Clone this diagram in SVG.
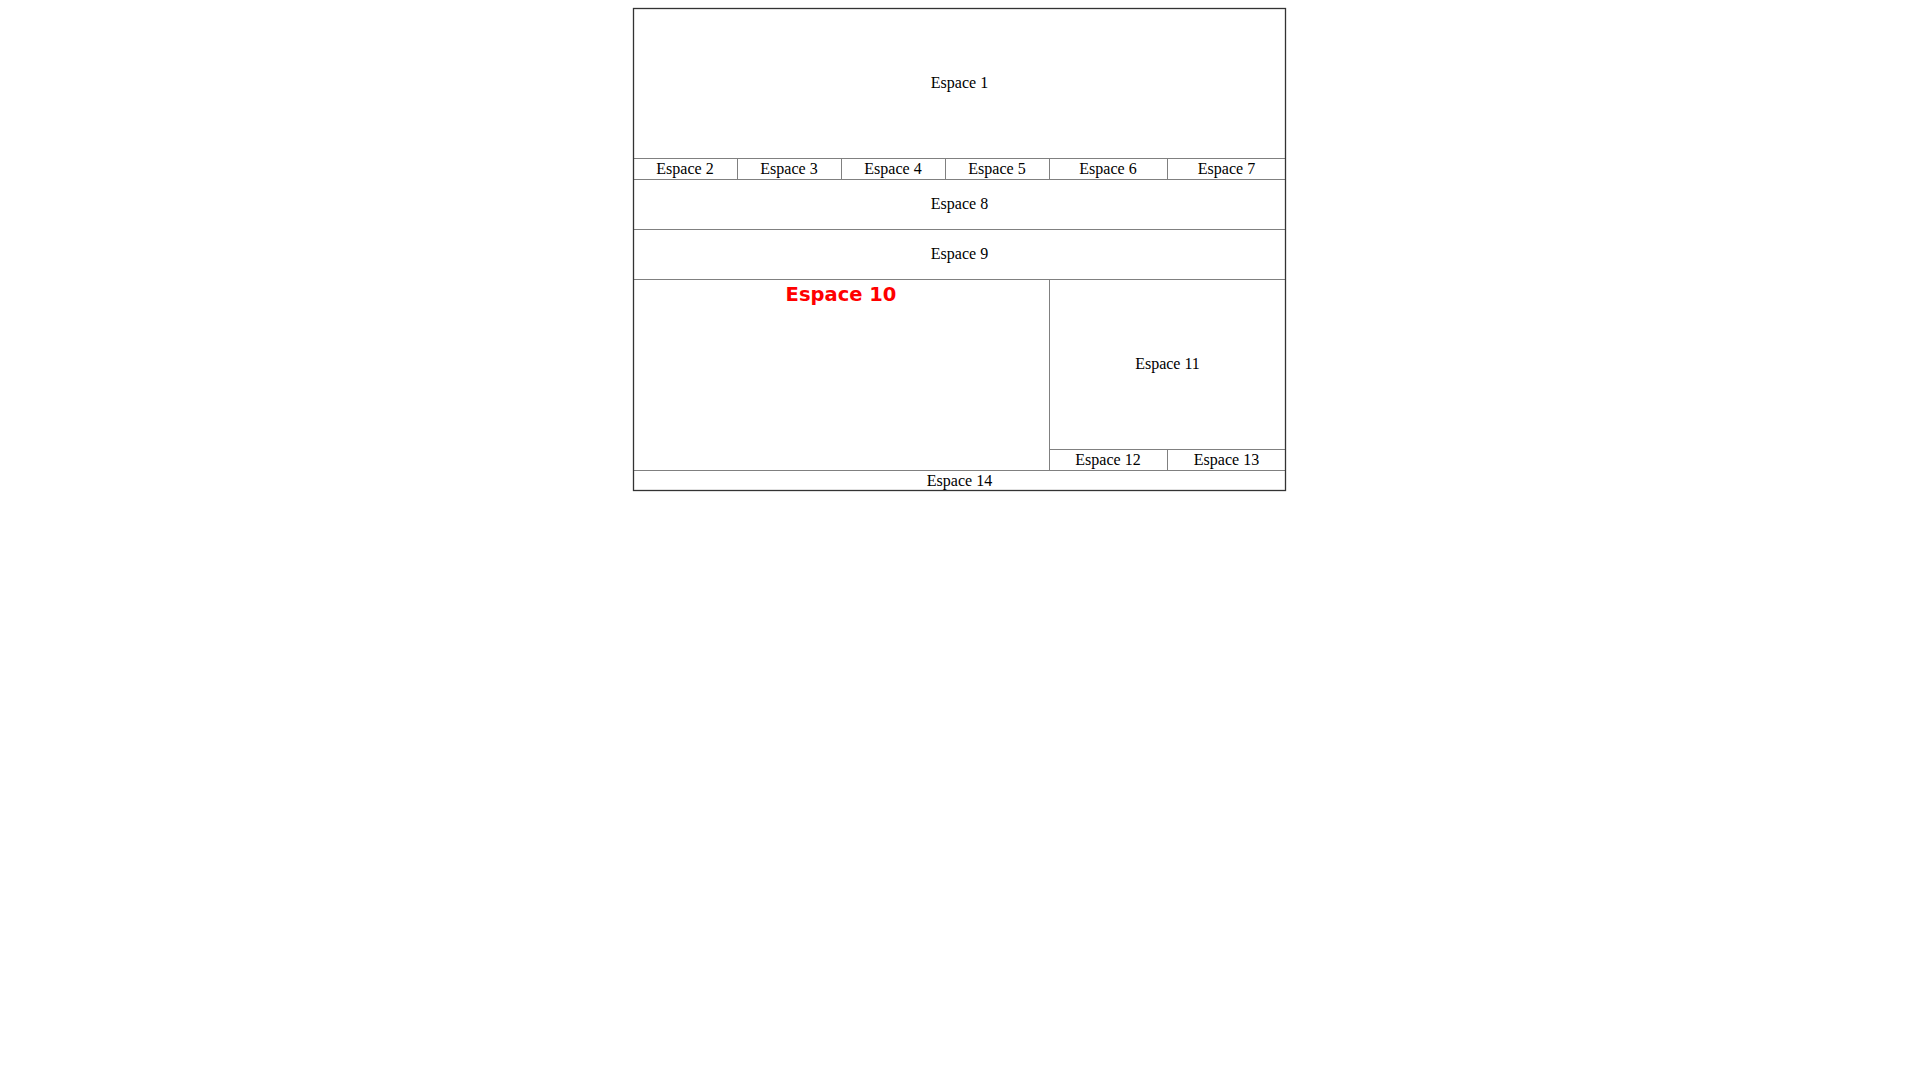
<svg xmlns="http://www.w3.org/2000/svg" width="1920" height="1080" viewBox="0 0 1920 1080">
<style>
.t{font-family:"Liberation Serif","Times New Roman",serif;font-size:16px;fill:#000;text-anchor:middle}
.red{font-family:"DejaVu Sans",Verdana,sans-serif;font-weight:bold;font-size:19.5px;fill:#ff0000;text-anchor:middle}
.in{stroke:#808080;stroke-width:1;fill:none}
.out{stroke:#333;stroke-width:1.3;fill:none}
</style>
<rect width="1920" height="1080" fill="#fff"/>
<g id="connectors">
<path class="in" d="M633 158.5H1286M633 179.5H1286M633 229.5H1286M633 279.5H1286M633 470.5H1286M1049 449.5H1286"/>
<path class="in" d="M737.5 158V179M841.5 158V179M945.5 158V179M1049.5 158V179M1167.5 158V179M1049.5 279V470M1167.5 449V470"/>
<rect class="out" x="633.5" y="8.5" width="652" height="482"/>
</g>
<g id="espace1"><text class="t" x="959.5" y="88">Espace 1</text></g>
<g id="espace2"><text class="t" x="685" y="174">Espace 2</text></g>
<g id="espace3"><text class="t" x="789" y="174">Espace 3</text></g>
<g id="espace4"><text class="t" x="893" y="174">Espace 4</text></g>
<g id="espace5"><text class="t" x="997" y="174">Espace 5</text></g>
<g id="espace6"><text class="t" x="1108" y="174">Espace 6</text></g>
<g id="espace7"><text class="t" x="1226.5" y="174">Espace 7</text></g>
<g id="espace8"><text class="t" x="959.5" y="209">Espace 8</text></g>
<g id="espace9"><text class="t" x="959.5" y="259">Espace 9</text></g>
<g id="espace10"><text class="red" x="841" y="301">Espace 10</text></g>
<g id="espace11"><text class="t" x="1167.5" y="369">Espace 11</text></g>
<g id="espace12"><text class="t" x="1108" y="465">Espace 12</text></g>
<g id="espace13"><text class="t" x="1226.5" y="465">Espace 13</text></g>
<g id="espace14"><text class="t" x="959.5" y="486">Espace 14</text></g>
</svg>
